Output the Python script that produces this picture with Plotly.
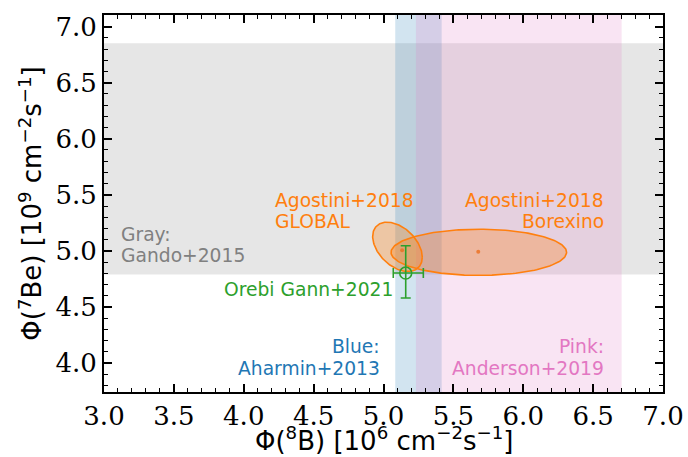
import numpy as np
import plotly.graph_objects as go

# ---------------- data ----------------
x_range = [3.0, 7.0]
y_range = [3.741, 7.104]
x_ticks = [3.0, 3.5, 4.0, 4.5, 5.0, 5.5, 6.0, 6.5, 7.0]
y_ticks = [4.0, 4.5, 5.0, 5.5, 6.0, 6.5, 7.0]

gando_7be = [4.79, 6.852]          # Gray band (y range)
aharmin_8b = [5.084, 5.416]        # Blue band (x range)
anderson_8b = [5.232, 6.704]       # Pink band (x range)

# Agostini+2018 Borexino ellipse: centre, semi-axes
borex_center = [5.682, 4.987]
borex_semi = [0.628, 0.206]
borex_point = [5.678, 4.993]

# Agostini+2018 GLOBAL ellipse: centre, sigmas, correlation
glob_center = [5.100, 5.036]
glob_sigma = [0.1775, 0.220]
glob_rho = -0.42
glob_point = [5.133, 5.006]

# Orebi Gann+2021 point with errors
orebi_x = [5.159]
orebi_y = [4.802]
orebi_xerr_minus = [0.089]
orebi_xerr_plus = [0.126]
orebi_yerr_minus = [0.222]
orebi_yerr_plus = [0.243]

ORANGE = "#ff7f0e"
GREEN = "#2ca02c"
BLUE = "#1f77b4"
PINK = "#e377c2"
GRAY = "#808080"

fig = go.Figure()

# bands
fig.add_shape(type="rect", xref="paper", yref="y", x0=0, x1=1,
              y0=gando_7be[0], y1=gando_7be[1], line_width=0,
              fillcolor="rgba(128,128,128,0.2)", layer="below")
fig.add_shape(type="rect", xref="x", yref="paper", x0=aharmin_8b[0], x1=aharmin_8b[1],
              y0=0, y1=1, line_width=0,
              fillcolor="rgba(31,119,180,0.2)", layer="below")
fig.add_shape(type="rect", xref="x", yref="paper", x0=anderson_8b[0], x1=anderson_8b[1],
              y0=0, y1=1, line_width=0,
              fillcolor="rgba(227,119,194,0.2)", layer="below")

# ellipses
t = np.linspace(0, 2 * np.pi, 200)
gx = glob_center[0] + glob_sigma[0] * np.cos(t)
gy = glob_center[1] + glob_sigma[1] * (glob_rho * np.cos(t) + np.sqrt(1 - glob_rho ** 2) * np.sin(t))
fig.add_trace(go.Scatter(x=gx, y=gy, mode="lines", fill="toself",
                         fillcolor="rgba(255,127,14,0.3)",
                         line=dict(color=ORANGE, width=1.6), hoverinfo="skip"))
bx = borex_center[0] + borex_semi[0] * np.cos(t)
by = borex_center[1] + borex_semi[1] * np.sin(t)
fig.add_trace(go.Scatter(x=bx, y=by, mode="lines", fill="toself",
                         fillcolor="rgba(255,127,14,0.3)",
                         line=dict(color=ORANGE, width=1.6), hoverinfo="skip"))
fig.add_trace(go.Scatter(x=[glob_point[0], borex_point[0]], y=[glob_point[1], borex_point[1]],
                         mode="markers", marker=dict(size=4, color="rgba(235,110,30,0.8)")))

# Orebi Gann point
fig.add_trace(go.Scatter(
    x=orebi_x, y=orebi_y, mode="markers",
    marker=dict(symbol="circle-open", size=12, color=GREEN, line=dict(width=1.6, color=GREEN)),
    error_x=dict(type="data", symmetric=False, array=orebi_xerr_plus, arrayminus=orebi_xerr_minus,
                 color=GREEN, thickness=1.6, width=5),
    error_y=dict(type="data", symmetric=False, array=orebi_yerr_plus, arrayminus=orebi_yerr_minus,
                 color=GREEN, thickness=1.6, width=5),
))

# annotations: (text, x, y, xanchor, color)
labels = [
    ("Agostini+2018", 4.207, 5.449, "left", ORANGE),
    ("GLOBAL", 4.207, 5.261, "left", ORANGE),
    ("Agostini+2018", 6.592, 5.449, "right", ORANGE),
    ("Borexino", 6.592, 5.261, "right", ORANGE),
    ("Gray:", 3.107, 5.143, "left", GRAY),
    ("Gando+2015", 3.107, 4.955, "left", GRAY),
    ("Orebi Gann+2021", 5.082, 4.658, "right", GREEN),
    ("Blue:", 4.991, 4.146, "right", BLUE),
    ("Aharmin+2013", 4.991, 3.954, "right", BLUE),
    ("Pink:", 6.592, 4.146, "right", PINK),
    ("Anderson+2019", 6.592, 3.954, "right", PINK),
]
for txt, x, y, xa, c in labels:
    fig.add_annotation(text=txt, x=x, y=y, xref="x", yref="y", xanchor=xa, yanchor="middle",
                       showarrow=False, font=dict(family="DejaVu Sans", size=18.7, color=c))

# x-axis title as annotation for exact placement
fig.add_annotation(text="Φ(<sup>8</sup>B) [10<sup>6</sup> cm<sup>−2</sup>s<sup>−1</sup>]",
                   x=0.5, y=-0.1724, xref="paper", yref="paper", xanchor="center", yanchor="bottom",
                   borderpad=0, showarrow=False,
                   font=dict(family="DejaVu Sans", size=26, color="black"))

axis_common = dict(
    showgrid=False, zeroline=False, showline=True, linecolor="black", linewidth=1.8,
    mirror="allticks", ticks="inside", ticklen=8, tickwidth=1.5, tickcolor="black",
    tickfont=dict(family="DejaVu Serif", size=26, color="black"),
    minor=dict(ticks="inside", ticklen=4, tickwidth=1, tickcolor="black", dtick=0.1),
)

fig.update_xaxes(range=x_range, tickvals=x_ticks, ticktext=[f"{v:.1f}" for v in x_ticks],
                 **axis_common)
fig.update_yaxes(range=y_range, tickvals=y_ticks, ticktext=[f"{v:.1f}" for v in y_ticks],
                 title=dict(text="Φ(<sup>7</sup>Be) [10<sup>9</sup> cm<sup>−2</sup>s<sup>−1</sup>]",
                            font=dict(family="DejaVu Sans", size=26, color="black"), standoff=6),
                 **axis_common)

fig.update_layout(width=688, height=457, margin=dict(l=104, r=25, t=15, b=65, autoexpand=False),
                  plot_bgcolor="white", paper_bgcolor="white", showlegend=False)

fig.write_html("out.html")
